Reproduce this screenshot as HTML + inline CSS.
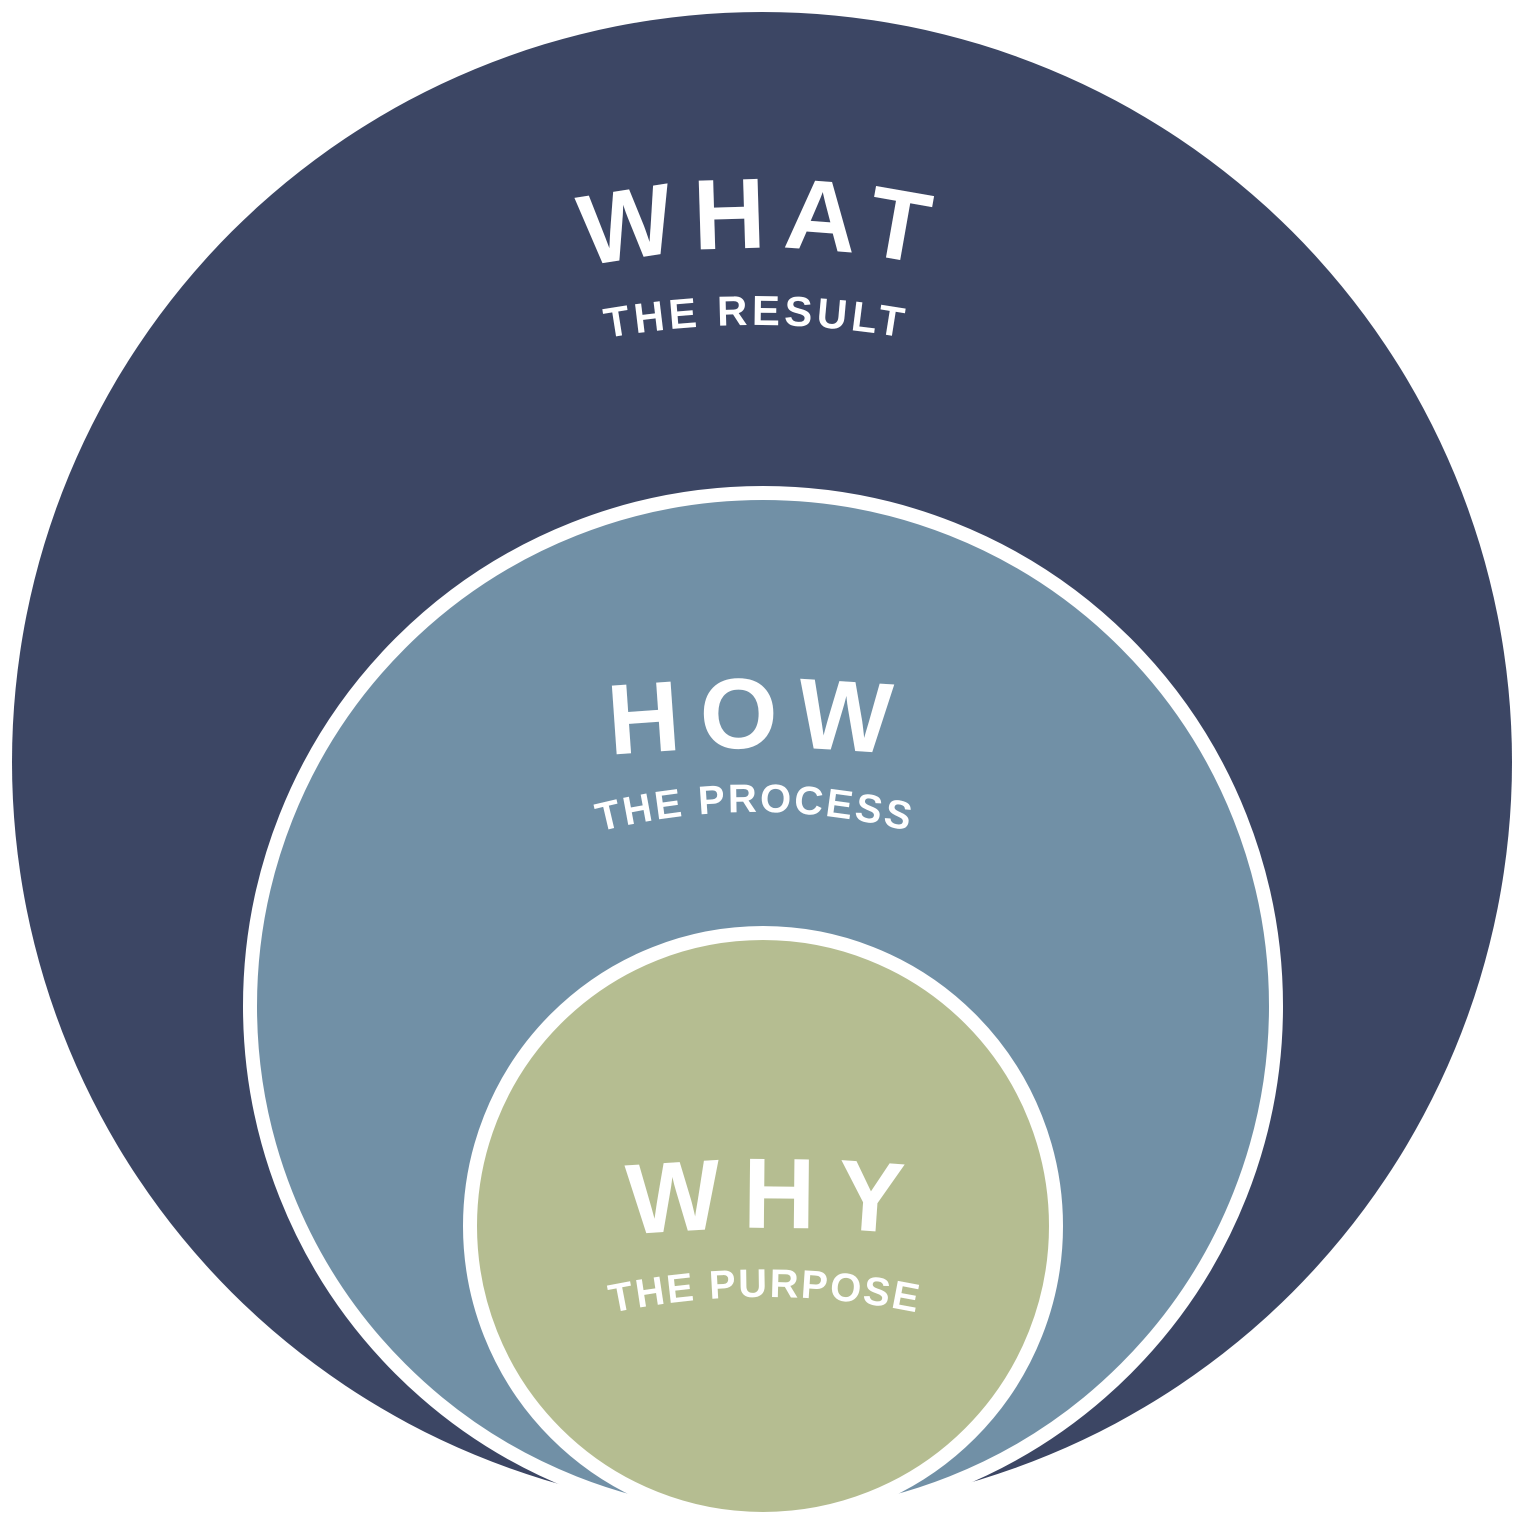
<!DOCTYPE html>
<html><head><style>html,body{margin:0;padding:0;background:#fff;overflow:hidden}svg{display:block}</style></head>
<body>
<svg width="1526" height="1526" viewBox="0 0 1526 1526" xmlns="http://www.w3.org/2000/svg">
<defs>
<path id="p1" d="M 462 306.4 A 800 800 0 0 1 1062 306.4"/>
<path id="p2" d="M 456 378.7 A 865 865 0 0 1 1056 378.7"/>
<path id="p3" d="M 459 778.3 A 1500 1500 0 0 1 1059 778.3"/>
<path id="p4" d="M 455 888.7 A 625 625 0 0 1 1055 888.7"/>
<path id="p5" d="M 475 1258.3 A 1500 1500 0 0 1 1075 1258.3"/>
<path id="p6" d="M 465 1359.6 A 750 750 0 0 1 1065 1359.6"/>
</defs>
<circle cx="762" cy="762" r="750" fill="#3c4664"/>
<circle cx="763" cy="1006" r="513" fill="#7190a6" stroke="#fff" stroke-width="14"/>
<circle cx="763" cy="1226" r="293" fill="#b5bd91" stroke="#fff" stroke-width="14"/>
<g fill="#fff" font-family="Liberation Sans, sans-serif" font-weight="bold" text-anchor="middle">
<text font-size="100" letter-spacing="16"><textPath href="#p1" startOffset="50%">WHAT</textPath></text>
<text font-size="42" letter-spacing="4"><textPath href="#p2" startOffset="50%">THE RESULT</textPath></text>
<text font-size="100" letter-spacing="18"><textPath href="#p3" startOffset="50%">HOW</textPath></text>
<text font-size="40" letter-spacing="2.5"><textPath href="#p4" startOffset="50%">THE PROCESS</textPath></text>
<text font-size="100" letter-spacing="20"><textPath href="#p5" startOffset="50%">WHY</textPath></text>
<text font-size="40" letter-spacing="2"><textPath href="#p6" startOffset="50%">THE PURPOSE</textPath></text>
</g>
</svg>
</body></html>
